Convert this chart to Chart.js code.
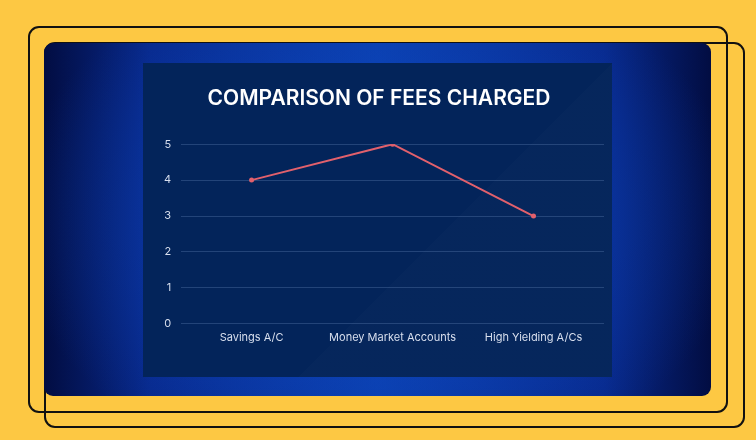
<!DOCTYPE html>
<html>
<head>
<meta charset="utf-8">
<script src="https://cdn.jsdelivr.net/npm/chart.js@4"></script>
<style>
  html, body { margin:0; padding:0; }
  body { width:756px; height:440px; background:#fdc843; position:relative; overflow:hidden; font-family:Inter, "Open Sans", sans-serif; }
  .frame { position:absolute; border:2.5px solid #111; border-radius:11px; box-sizing:border-box; }
  #f1 { left:28px; top:26px; width:700px; height:387px; }
  #f2 { left:44px; top:42px; width:701px; height:386px; }
  #panel { position:absolute; left:44px; top:43px; width:667px; height:353px; border-radius:9px;
    background:
      radial-gradient(ellipse 55% 75% at 50% 50%, rgba(12,70,190,0.9) 0%, rgba(12,70,190,0) 100%),
      linear-gradient(90deg, #020d42 0%, #08298c 16%, #0b3fae 50%, #08298c 84%, #020d42 100%); }
  #inner { position:absolute; left:143px; top:63px; width:469px; height:314px; background:#03245a; overflow:hidden; }
  #shade { position:absolute; left:0; top:0; width:100%; height:100%;
    background: linear-gradient(135deg, rgba(255,255,255,0) 60%, rgba(255,255,255,0.01) 60%, rgba(255,255,255,0.01) 100%); }
  canvas { position:absolute; left:0; top:0; }
</style>
</head>
<body>
<div class="frame" id="f1"></div>
<div class="frame" id="f2"></div>
<div id="panel"></div>
<div id="inner"><div id="shade"></div><canvas id="c" width="469" height="314"></canvas></div>
<script>
const titleText = "COMPARISON OF FEES CHARGED";
const categories = ["Savings A/C", "Money Market Accounts", "High Yielding A/Cs"];
const feeValues = [4, 5, 3];
const yTicks = [0, 1, 2, 3, 4, 5];

new Chart(document.getElementById('c'), {
  type: 'line',
  data: {
    labels: categories,
    datasets: [{
      data: feeValues,
      borderColor: '#e2606c',
      backgroundColor: '#e2606c',
      borderWidth: 2,
      pointRadius: 2.5,
      pointBorderWidth: 0,
      tension: 0
    }]
  },
  options: {
    responsive: false,
    animation: false,
    layout: { padding: { left: 11, right: 8, top: 0, bottom: 26 } },
    plugins: {
      legend: { display: false },
      tooltip: { enabled: false },
      title: {
        display: true,
        text: titleText,
        color: '#ffffff',
        font: { family: 'Inter', size: 21, weight: 600 },
        padding: { top: 23, bottom: 33 }
      }
    },
    scales: {
      x: {
        offset: true,
        grid: { display: false, drawTicks: false },
        border: { display: false },
        ticks: { color: '#d8dfee', font: { family: 'Inter', size: 11 }, padding: 7, maxRotation: 0 }
      },
      y: {
        min: yTicks[0],
        max: yTicks[yTicks.length - 1],
        afterBuildTicks: (axis) => { axis.ticks = yTicks.map(v => ({ value: v })); },
        grid: { color: 'rgba(120,150,200,0.28)', drawTicks: false, lineWidth: 1 },
        border: { display: false },
        ticks: { color: '#d8dfee', font: { family: 'Inter', size: 11 }, padding: 10 }
      }
    }
  }
});
</script>
</body>
</html>
